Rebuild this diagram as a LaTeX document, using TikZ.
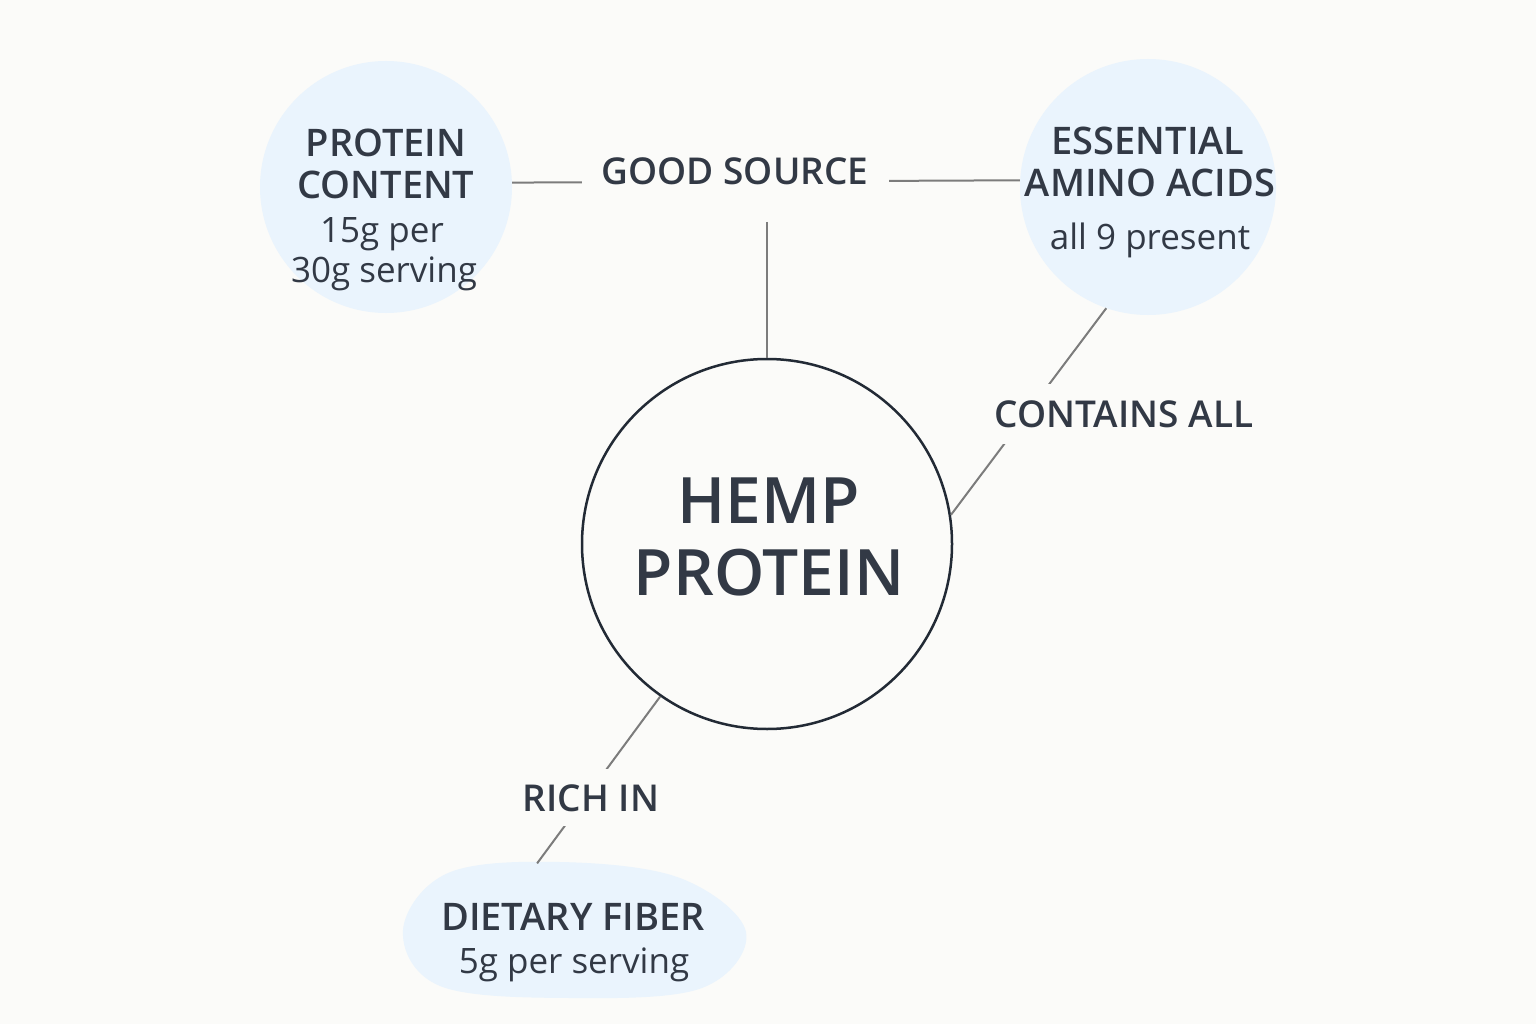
\documentclass[tikz,border=0pt]{standalone}
\usepackage{fontspec}
\setmainfont{Open Sans}
\IfFontExistsTF{Open Sans SemiBold}{\newfontfamily\hdfont{Open Sans SemiBold}}{%
  \IfFontExistsTF{Open Sans Semibold}{\newfontfamily\hdfont{Open Sans Semibold}}{%
    \newfontfamily\hdfont{Fira Sans SemiBold}}}
\usetikzlibrary{shapes.geometric}
\definecolor{bg}{HTML}{FBFBF9}
\definecolor{bub}{HTML}{EAF4FD}
\definecolor{ink}{HTML}{323945}
\definecolor{lin}{HTML}{7C7C7C}
\definecolor{ring}{HTML}{222A35}
\begin{document}
\begin{tikzpicture}[x=1pt,y=-1pt,
  bubble/.style={circle,fill=bub,draw=none,inner sep=0pt,minimum size=#1},
  head/.style={anchor=base,text=ink,inner sep=0pt,font=\hdfont\fontsize{38}{42}\selectfont},
  sub/.style={anchor=base,text=ink,inner sep=0pt,font=\fontsize{35}{40}\selectfont},
  big/.style={anchor=base,text=ink,inner sep=0pt,font=\hdfont\fontsize{64}{70}\selectfont},
  lab/.style={fill=bg,text=ink,inner sep=0pt,text height=27pt,text depth=0pt,font=\hdfont\fontsize{37}{42}\selectfont},
  conn/.style={draw=lin,line width=2pt},
]
\path[fill=bg] (0,0) rectangle (1536,1024);
\useasboundingbox (0,0) rectangle (1536,1024);

% bubbles
\node[bubble=252pt] (pc) at (386,187) {};
\node[bubble=256pt] (ac) at (1148,187) {};
\node[ellipse,draw=none,inner sep=0pt,minimum width=344pt,minimum height=136pt] (fb) at (574,930) {};
\fill[bub] plot[smooth cycle,tension=0.6] coordinates {(403,930) (448,873) (560,862) (680,878) (746,932) (702,988) (570,998) (440,986)};
\node[circle,draw=ring,line width=2.5pt,fill=bg,inner sep=0pt,minimum size=370pt] (hemp) at (767,544) {};

% connectors
\coordinate (vtop) at (767,222);
\draw[conn] (pc.2.7) -- (ac.177.3);
\draw[conn] (vtop) -- (hemp.north);
\draw[conn] (ac.251.6) -- (hemp.9.8);
\draw[conn] (hemp.235.8) -- (fb.119);

% connector labels
\node[lab,minimum width=307pt,minimum height=44pt] (gs) at (735,171) {GOOD SOURCE};
\node[lab,minimum height=60pt] (ca) at (1124,414) {CONTAINS ALL};
\node[lab,minimum height=57pt] (ri) at (591,797.5) {RICH IN};

% texts
\node[head] (pc1) at (386,157) {PROTEIN};
\node[head] (pc2) at (386,199) {CONTENT};
\node[sub] (pc3) at (382,243) {15g per};
\node[sub] (pc4) at (384,283) {30g serving};

\node[head] (ac1) at (1148,155) {ESSENTIAL};
\node[head] (ac2) at (1150,197) {AMINO ACIDS};
\node[sub] (ac3) at (1150,250) {all 9 present};

\node[head] (fb1) at (573,930) {DIETARY FIBER};
\node[sub] (fb2) at (574,973) {5g per serving};

\node[big] (h1) at (769,523) {HEMP};
\node[big] (h2) at (769,595) {PROTEIN};
\end{tikzpicture}
\end{document}
